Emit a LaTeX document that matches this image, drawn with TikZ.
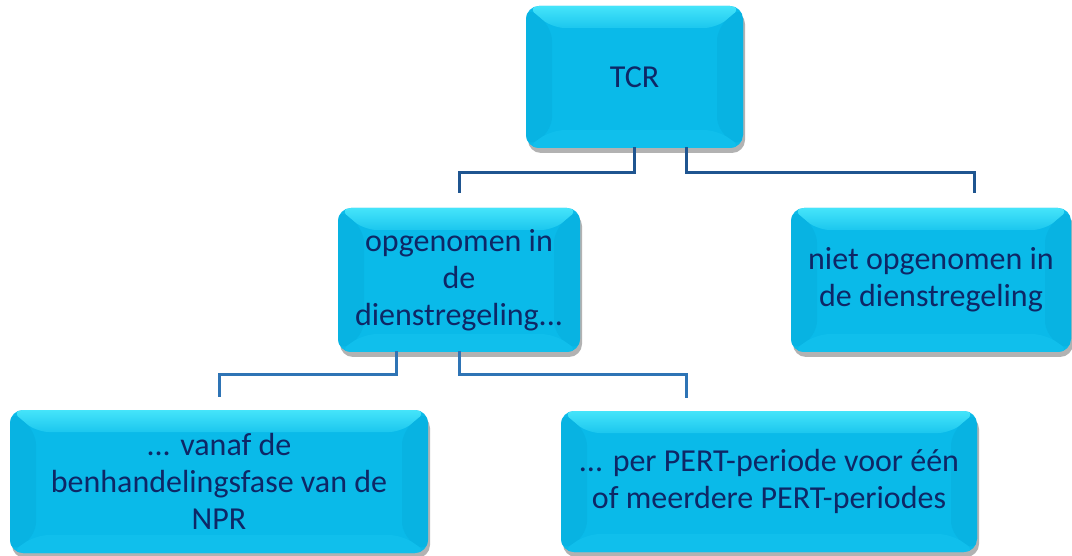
\documentclass[tikz,border=0pt]{standalone}
\usepackage{fontspec}
\setmainfont{Carlito}
\usepackage{xcolor}
\usetikzlibrary{shadows}
\definecolor{box_fill}{HTML}{0ABAE9}
\definecolor{box_top}{HTML}{45E4FA}
\definecolor{box_side}{HTML}{08B3E2}
\definecolor{box_bottom}{HTML}{10BFEC}
\definecolor{box_text}{HTML}{0E2766}
\definecolor{link_blue}{HTML}{2E74B5}
\definecolor{link_dark}{HTML}{1F5590}

\begin{document}
\begin{tikzpicture}[
            x=1pt,
            y=-1pt,
            line cap=rect,
            line join=miter,
            box/.style={
                rectangle, rounded corners=13pt, inner sep=0pt, align=center,
                fill=box_fill, text=box_text,
                font=\fontsize{32}{37}\selectfont,
                drop shadow={shadow xshift=2pt, shadow yshift=-5pt, opacity=0.3, fill=black},
                path picture={
                    \coordinate (bnw) at (path picture bounding box.north west);
                    \coordinate (bse) at (path picture bounding box.south east);
                    \coordinate (bne) at (bnw -| bse);
                    \coordinate (bsw) at (bnw |- bse);
                    \coordinate (inw) at ([xshift=26pt,yshift=-22pt]bnw);
                    \coordinate (ine) at ([xshift=-26pt,yshift=-22pt]bne);
                    \coordinate (ise) at ([xshift=-26pt,yshift=18pt]bse);
                    \coordinate (isw) at ([xshift=26pt,yshift=18pt]bsw);
                    \shade[top color=box_top, bottom color=box_fill!70!box_top] (bnw) -- (bne) -- (ine) -- (inw) -- cycle;
                    \fill[box_side] (bnw) -- (inw) -- (isw) -- (bsw) -- cycle;
                    \fill[box_side] (bne) -- (ine) -- (ise) -- (bse) -- cycle;
                    \fill[box_bottom] (bsw) -- (isw) -- (ise) -- (bse) -- cycle;
                }
            },
            link/.style={line width=3pt, draw=link_blue}
        ]
            \useasboundingbox (0,0) rectangle (1072,556);

            % Boxes
            \node[box, minimum width=217pt, minimum height=142pt] (tcr) at (634.5,77) {TCR};
            \node[box, minimum width=242pt, minimum height=144pt] (opgenomen) at (459,280) {opgenomen in\\ de\\ dienstregeling...};
            \node[box, minimum width=280pt, minimum height=144pt] (niet) at (931,280) {niet opgenomen in\\ de dienstregeling};
            \node[box, minimum width=418pt, minimum height=143pt] (vanaf) at (219,481.5) {... vanaf de\\ benhandelingsfase van de\\ NPR};
            \node[box, minimum width=416pt, minimum height=141pt] (pert) at (769,481.5) {... per PERT-periode voor één\\ of meerdere PERT-periodes};

            % Connectors from TCR
            \draw[link, draw=link_dark, shorten >=16pt] (tcr.south) -- ++(0,24) -| (opgenomen.north);
            \draw[link, draw=link_dark, shorten >=16pt] ([xshift=52pt]tcr.south) -- ++(0,24) -| ([xshift=43pt]niet.north);

            % Connectors from opgenomen
            \draw[link, shorten >=14pt] ([xshift=-63pt]opgenomen.south) -- ++(0,22) -| (vanaf.north);
            \draw[link, shorten >=14pt] (opgenomen.south) -- ++(0,22) -| ([xshift=-83pt]pert.north);
        \end{tikzpicture}
\end{document}
